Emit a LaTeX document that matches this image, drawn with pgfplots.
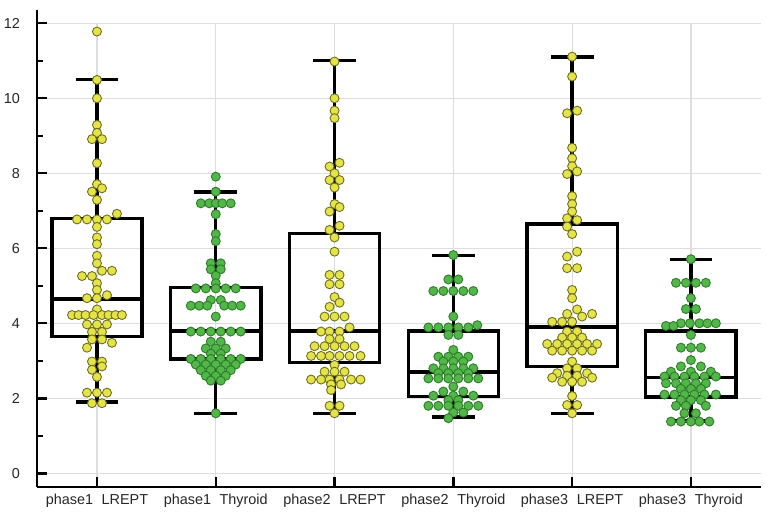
\documentclass[border=0pt]{standalone}
\usepackage{fontspec}
\setmainfont{Liberation Sans}
\usepackage{pgfplots}
\usepackage{pgfplotstable}
\pgfplotsset{compat=1.18}
\usepgfplotslibrary{statistics}
\usetikzlibrary{calc}

\definecolor{DotYellow}{RGB}{228,228,72}
\definecolor{EdgeYellow}{RGB}{110,110,30}
\definecolor{DotGreen}{RGB}{82,182,72}
\definecolor{EdgeGreen}{RGB}{45,125,42}
\definecolor{GridGray}{RGB}{222,222,222}

% k = horizontal offset in half-dot steps, v = value
\pgfplotstableread{
k v
0 11.78
0 10.49
0 10.0
0 9.29
0 9.08
-1 8.91
1 8.91
0 8.27
0 7.71
1 7.6
-1 7.51
0 7.29
-4 6.77
-2 6.77
0 6.77
2 6.77
4 6.92
0 6.57
0 6.29
0 6.11
0 5.8
0 5.6
1 5.4
3 5.4
-3 5.26
-1 5.26
0 5.07
0 4.89
2 4.75
-2 4.67
0 4.67
0 4.37
-5 4.22
-3.7 4.22
-2.3 4.22
-0.7 4.22
1 4.22
2.3 4.22
3.7 4.22
5 4.22
-2 3.97
0 3.97
2 3.97
-1 3.77
1 3.77
-1 3.57
1 3.57
3 3.48
-2 3.35
-1 2.98
1 2.98
1 2.85
-1 2.76
0 2.57
-2 2.15
0 2.15
2 2.15
-1 1.87
1 1.87
}\pOneL

\pgfplotstableread{
k v
0 7.91
0 7.51
-3 7.2
-1.3 7.2
0 7.2
1.3 7.2
3 7.2
0 6.91
0 6.38
0 6.19
-1 5.6
1 5.6
-1 5.44
1 5.44
0 5.27
0 5.07
-4 4.93
-2 4.93
0 4.93
2 4.93
4 4.93
-1 4.62
1 4.62
-5 4.47
-3.3 4.47
-1.7 4.47
1.7 4.47
3.3 4.47
5 4.47
0 4.18
-5 3.78
-3 3.78
-1 3.78
1 3.78
3 3.78
5 3.78
-1 3.51
1 3.51
-2 3.33
0 3.33
2 3.33
-1 3.19
1 3.19
-5 3.05
-3 3.05
-1 3.05
1 3.05
3 3.05
5 3.05
-4 2.9
-2 2.9
0 2.9
2 2.9
4 2.9
-3 2.75
-1 2.75
1 2.75
3 2.75
-2 2.6
0 2.6
2 2.6
-1 2.47
1 2.47
0 1.6
}\pOneT

\pgfplotstableread{
k v
0 10.98
0 10.0
0 9.67
0 9.47
1 8.28
-1 8.18
0 8.0
-1 7.82
1 7.82
0 7.62
0 7.18
1 7.1
-1 6.98
1 6.6
-1 6.49
0 6.29
0 5.91
-1 5.29
1 5.29
-1 5.04
1 5.04
0 4.7
1 4.55
-1 4.44
-2 4.18
0 4.18
2 4.18
-2.7 3.78
-1 3.78
1 3.78
3 3.89
-1 3.58
1 3.58
-4 3.39
-2 3.39
0 3.39
2 3.39
4 3.39
-4.7 3.13
-2.7 3.13
-1 3.13
1 3.13
3 3.13
5.2 3.13
0 2.89
-2 2.71
0 2.71
2 2.71
-4.7 2.5
-2.7 2.5
-1 2.5
1 2.5
3.3 2.5
5.2 2.5
-0.7 2.37
1.3 2.37
-0.7 2.22
-1 1.8
1 1.8
0 1.6
}\pTwoL

\pgfplotstableread{
k v
0 5.82
-1 5.17
1 5.17
-4 4.86
-2 4.86
0 4.86
2 4.86
4 4.86
0 4.18
-5 3.89
-3 3.89
-1 3.89
1 3.89
3 3.89
4.8 3.95
-1 3.69
1 3.69
0 3.29
-3 3.11
-1 3.11
1 3.11
3 3.11
-2 2.98
0 2.98
2 2.98
-4 2.8
-2 2.8
0 2.8
2 2.8
4 2.8
-3 2.67
-1 2.67
1 2.67
3 2.67
-5 2.53
-3 2.53
-1 2.53
1 2.53
3 2.53
5 2.53
0 2.31
-2 2.18
2 2.18
-4 2.07
0 2.07
4 2.07
-1 1.95
1 1.95
-5 1.8
-3 1.8
-1 1.8
1 1.8
3 1.8
5 1.8
0 1.62
2 1.62
-1 1.47
}\pTwoT

\pgfplotstableread{
k v
0 11.11
0 10.58
1 9.67
-1 9.6
0 8.68
0 8.4
0 8.19
1 8.05
-1 7.98
0 7.39
0 7.18
0 6.98
-1 6.8
1 6.75
-1 6.58
0 6.38
1 5.91
-1 5.78
-1 5.47
1 5.47
0 4.89
0 4.67
1 4.37
-1 4.25
4 4.25
2 4.18
-4 4.04
-2 4.04
0 4.04
-1 3.78
1 3.78
-2 3.62
0 3.62
2 3.62
-5 3.45
-3 3.45
-1 3.45
1 3.45
3 3.45
5 3.45
-4 3.27
-2 3.27
0 3.27
2 3.27
4 3.27
0 2.98
-1 2.8
1 2.8
-3 2.67
3 2.67
-4 2.55
-1 2.6
1 2.6
4 2.55
-2 2.44
0 2.44
2 2.44
0 2.06
-1 1.82
1 1.82
0 1.6
}\pThreeL

\pgfplotstableread{
k v
0 5.71
-3 5.08
-1 5.08
1 5.08
3 5.08
0 4.67
-1 4.38
1 4.38
-2 4.0
-0.2 4.0
1.7 4.0
3.3 4.0
5 4.0
-5 3.93
-3.5 3.93
0 3.69
-2 3.35
0 3.35
2 3.35
0 3.02
-2 2.85
2 2.85
-4 2.71
0 2.71
4 2.71
-5.3 2.58
-3.3 2.58
-1.3 2.58
0.7 2.58
2.7 2.58
5 2.58
-5 2.4
-3 2.4
-1 2.4
1 2.4
3 2.4
-2 2.25
0 2.25
2 2.25
-5.3 2.1
-3.3 2.1
-1.3 2.1
0.7 2.1
2.7 2.1
5 2.1
-2 1.95
0 1.95
2 1.95
-3 1.8
-1 1.8
3 1.8
-1.3 1.6
1 1.6
-4 1.38
-2 1.38
0 1.38
1.7 1.38
3.7 1.38
}\pThreeT

\begin{document}
\begin{tikzpicture}
\begin{axis}[
    name=ax,
    scale only axis,
    width=362pt,
    height=231.85pt,
    xmin=-0.505, xmax=5.59,
    ymin=-0.365, ymax=12,
    axis x line*=bottom,
    axis y line*=left,
    axis line style={line width=1.4pt, black},
    y axis line style={shorten >=-6.5pt},
    xtick={0,1,2,3,4,5},
    xticklabels={phase1\hspace{0.6em}LREPT, phase1\hspace{0.6em}Thyroid,
                 phase2\hspace{0.6em}LREPT, phase2\hspace{0.6em}Thyroid,
                 phase3\hspace{0.6em}LREPT, phase3\hspace{0.6em}Thyroid},
    ytick={0,2,4,6,8,10,12},
    minor ytick={1,3,5,7,9,11},
    tick align=inside,
    major tick length=5pt,
    minor tick length=3pt,
    tick style={line width=1.2pt, black},
    grid=major,
    major grid style={line width=0.6pt, GridGray},
    tick label style={font=\fontsize{7.2}{8}\selectfont, text=black!85},
    yticklabel style={xshift=-5pt},
    /pgf/number format/assume math mode=true,
    boxplot/draw direction=y,
    boxplot/box extend=0.76,
    boxplot/whisker extend=0.36,
]

% boxes
\addplot[draw=black, line width=1.7pt, boxplot prepared={draw position=0,
    lower whisker=1.9, lower quartile=3.65, median=4.65,
    upper quartile=6.8, upper whisker=10.5}] coordinates {};
\addplot[draw=black, line width=1.7pt, boxplot prepared={draw position=1,
    lower whisker=1.6, lower quartile=3.05, median=3.8,
    upper quartile=4.95, upper whisker=7.5}] coordinates {};
\addplot[draw=black, line width=1.7pt, boxplot prepared={draw position=2,
    lower whisker=1.6, lower quartile=2.95, median=3.8,
    upper quartile=6.4, upper whisker=11.0}] coordinates {};
\addplot[draw=black, line width=1.7pt, boxplot prepared={draw position=3,
    lower whisker=1.5, lower quartile=2.05, median=2.7,
    upper quartile=3.8, upper whisker=5.8}] coordinates {};
\addplot[draw=black, line width=1.7pt, boxplot prepared={draw position=4,
    lower whisker=1.6, lower quartile=2.85, median=3.9,
    upper quartile=6.65, upper whisker=11.1}] coordinates {};
\addplot[draw=black, line width=1.7pt, boxplot prepared={draw position=5,
    lower whisker=1.4, lower quartile=2.03, median=2.55,
    upper quartile=3.8, upper whisker=5.7}] coordinates {};

% dots
\pgfplotsset{
    ydot/.style={only marks, mark=*, mark size=2.25pt,
        mark options={fill=DotYellow, draw=EdgeYellow, line width=0.45pt}},
    gdot/.style={only marks, mark=*, mark size=2.25pt,
        mark options={fill=DotGreen, draw=EdgeGreen, line width=0.45pt}},
}
\addplot[ydot] table[x expr=0+0.042*\thisrow{k}, y=v] {\pOneL};
\addplot[gdot] table[x expr=1+0.042*\thisrow{k}, y=v] {\pOneT};
\addplot[ydot] table[x expr=2+0.042*\thisrow{k}, y=v] {\pTwoL};
\addplot[gdot] table[x expr=3+0.042*\thisrow{k}, y=v] {\pTwoT};
\addplot[ydot] table[x expr=4+0.042*\thisrow{k}, y=v] {\pThreeL};
\addplot[gdot] table[x expr=5+0.042*\thisrow{k}, y=v] {\pThreeT};

\end{axis}
\pgfresetboundingbox
\path[use as bounding box] ($(ax.south west)+(-18.5pt,-13pt)$) rectangle ($(ax.north east)+(3.5pt,11.65pt)$);
\end{tikzpicture}
\end{document}
